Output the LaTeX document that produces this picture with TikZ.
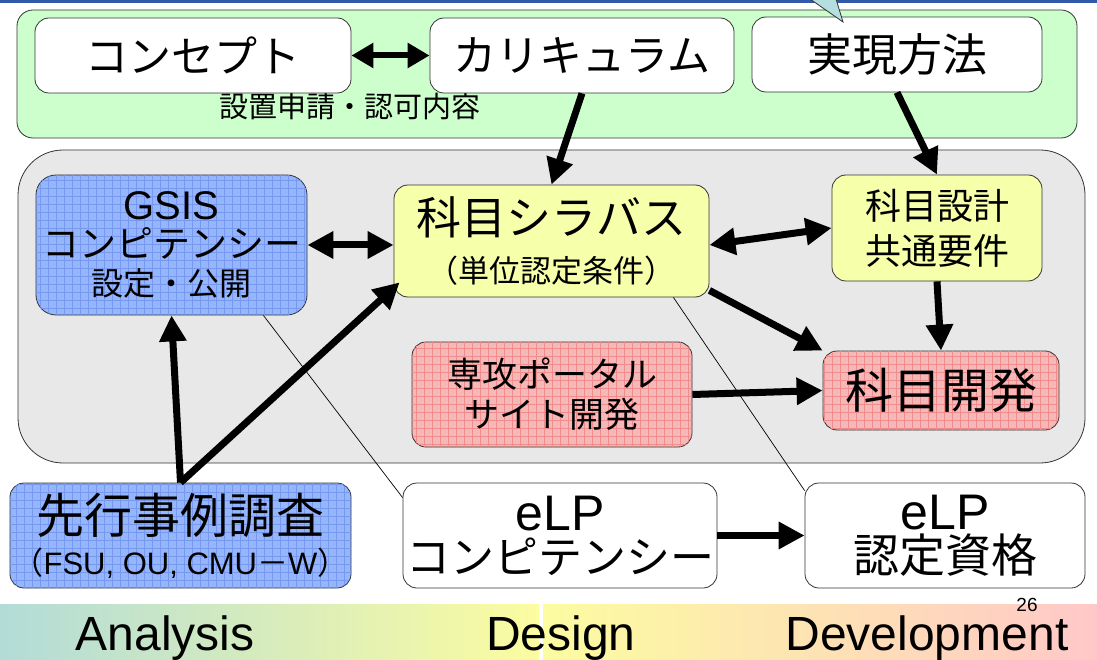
\documentclass[tikz,border=0pt]{standalone}
\usepackage{fontspec}
\setmainfont{Liberation Sans}
\newfontfamily\jp{Noto Sans CJK JP}
\usepackage{tikz}
\usetikzlibrary{arrows.meta,patterns.meta}

\definecolor{panelgreen}{RGB}{204,255,204}
\definecolor{panelgray}{RGB}{232,232,232}
\definecolor{boxyellow}{RGB}{246,255,170}
\definecolor{boxblue}{RGB}{150,182,252}
\definecolor{gridblue}{RGB}{118,152,240}
\definecolor{boxpink}{RGB}{245,184,184}
\definecolor{gridpink}{RGB}{240,140,140}
\definecolor{barteal}{RGB}{178,220,216}
\definecolor{baryellow}{RGB}{252,252,160}
\definecolor{barpeach}{RGB}{252,216,176}
\definecolor{barpink}{RGB}{255,200,200}
\definecolor{calloutblue}{RGB}{180,222,224}
\definecolor{topblue}{RGB}{50,90,170}

\newcommand{\fsz}[2]{\fontsize{#1}{#2}\selectfont}

\tikzset{
  box/.style={draw=black!80, line width=0.8pt, rounded corners=14pt, align=center, inner sep=0pt},
  wbox/.style={box, fill=white},
  ybox/.style={box, fill=boxyellow},
  bbox/.style={box, fill=boxblue, postaction={pattern={Hatch[angle=0,distance=8pt,line width=0.6pt]}, pattern color=gridblue}},
  pbox/.style={box, fill=boxpink, postaction={pattern={Hatch[angle=0,distance=8pt,line width=0.6pt]}, pattern color=gridpink}},
  arr/.style={line width=7pt, -{Triangle[length=26pt,width=26pt]}},
  darr/.style={line width=7pt, {Triangle[length=26pt,width=26pt]}-{Triangle[length=26pt,width=26pt]}},
  link/.style={line width=0.7pt},
  phase/.style={anchor=base, font=\fsz{48}{48}},
}

\begin{document}
\begin{tikzpicture}[x=1pt,y=-1pt]
\useasboundingbox (0,0) rectangle (1097,660);

\draw[topblue, line width=3pt] (0,1.5) -- (1097,1.5);

\draw[draw=black!80, line width=0.8pt, fill=panelgreen, rounded corners=16pt] (17,10) rectangle (1077,138);
\node[font=\jp\fsz{29}{29}] (approval) at (350,107) {設置申請・認可内容};
\node[wbox, minimum width=316pt, minimum height=75pt, font=\jp\fsz{43}{43}] (concept) at (193,55.5) {コンセプト};
\node[wbox, minimum width=304pt, minimum height=75pt, font=\jp\fsz{43}{43}] (curriculum) at (582,55.5) {カリキュラム};
\node[wbox, minimum width=290pt, minimum height=75pt, font=\jp\fsz{45}{45}] (method) at (897,54.5) {実現方法};

\draw[draw=black!80, line width=0.8pt, fill=panelgray, rounded corners=45pt] (18,150) rectangle (1085,463);
\node[bbox, rounded corners=20pt, minimum width=271pt, minimum height=140pt, font=\fsz{10}{38}] (gsis) at (171.5,245)
  {\fsz{40}{38}GSIS\\\jp\fsz{37}{38}コンピテンシー\\\jp\fsz{32}{38}設定・公開};
\node[ybox, minimum width=315pt, minimum height=112pt, font=\fsz{10}{48}] (syllabus) at (551.5,241)
  {\jp\fsz{45}{48}科目シラバス\\\jp\fsz{31}{48}（単位認定条件）};
\node[ybox, minimum width=210pt, minimum height=106pt, font=\fsz{10}{45}] (design) at (937,228)
  {\jp\fsz{36}{45}科目設計\\\jp\fsz{36}{45}共通要件};
\node[pbox, minimum width=280pt, minimum height=105pt, font=\fsz{10}{40}] (portal) at (552,394.5)
  {\jp\fsz{35}{40}専攻ポータル\\\jp\fsz{35}{40}サイト開発};
\node[pbox, minimum width=236pt, minimum height=79pt, font=\jp\fsz{48}{48}] (develop) at (941,390.5) {科目開発};

\node[bbox, minimum width=341pt, minimum height=105pt, font=\fsz{10}{41}] (survey) at (180.5,535.5)
  {\jp\fsz{48}{41}先行事例調査\\\fsz{31}{41}{\jp （}FSU, OU, CMU{\jp －}W{\jp ）}};
\node[wbox, minimum width=314pt, minimum height=105pt, font=\fsz{10}{43}] (elpcomp) at (560,535.5)
  {\fsz{50}{43}eLP\\\jp\fsz{44}{43}コンピテンシー};
\node[wbox, minimum width=280pt, minimum height=105pt, font=\fsz{10}{43}] (elpcert) at (945,535.5)
  {\fsz{50}{43}eLP\\\jp\fsz{46}{43}認定資格};

\draw[link] ([xshift=-44pt]gsis.south east) -- ([yshift=-15pt]elpcomp.north west);
\draw[link] ([xshift=-36pt]syllabus.south east) -- ([yshift=-8pt]elpcert.north west);

\draw[line width=6pt, {Triangle[length=22pt,width=24pt]}-{Triangle[length=22pt,width=24pt]}] (concept.east) -- (curriculum.west);
\draw[arr] (curriculum.south) -- (syllabus.north);
\draw[arr] (method.south) -- (design.north);
\draw[darr] (gsis.east) -- (gsis.east -| syllabus.west);
\draw[darr] ([yshift=-4pt]syllabus.east) -- (design.west);
\draw[arr] ([yshift=7pt]syllabus.south east) -- (develop.north west);
\draw[arr] (design.south) -- (develop.north);
\draw[arr] (portal.east) -- (develop.west);
\draw[arr] (survey.north) -- (gsis.south);
\draw[arr] (survey.north) -- ([shift={(6,-15)}]syllabus.south west);
\draw[arr] (elpcomp.east) -- (elpcert.west);

\shade[left color=barteal, right color=baryellow] (0,604) rectangle (539,660);
\shade[left color=baryellow, middle color=barpeach, right color=barpink] (543,604) rectangle (1097,660);
\node[phase] (analysis) at (165,650) {Analysis};
\node[phase] (designphase) at (561,650) {Design};
\node[phase] (development) at (927,650) {Development};
\node[font=\fsz{19}{19}] (page) at (1027,605) {26};

\draw[draw=black!80, line width=0.8pt, fill=calloutblue] (810,-1) -- (843,22) -- (836,-1);
\end{tikzpicture}
\end{document}
